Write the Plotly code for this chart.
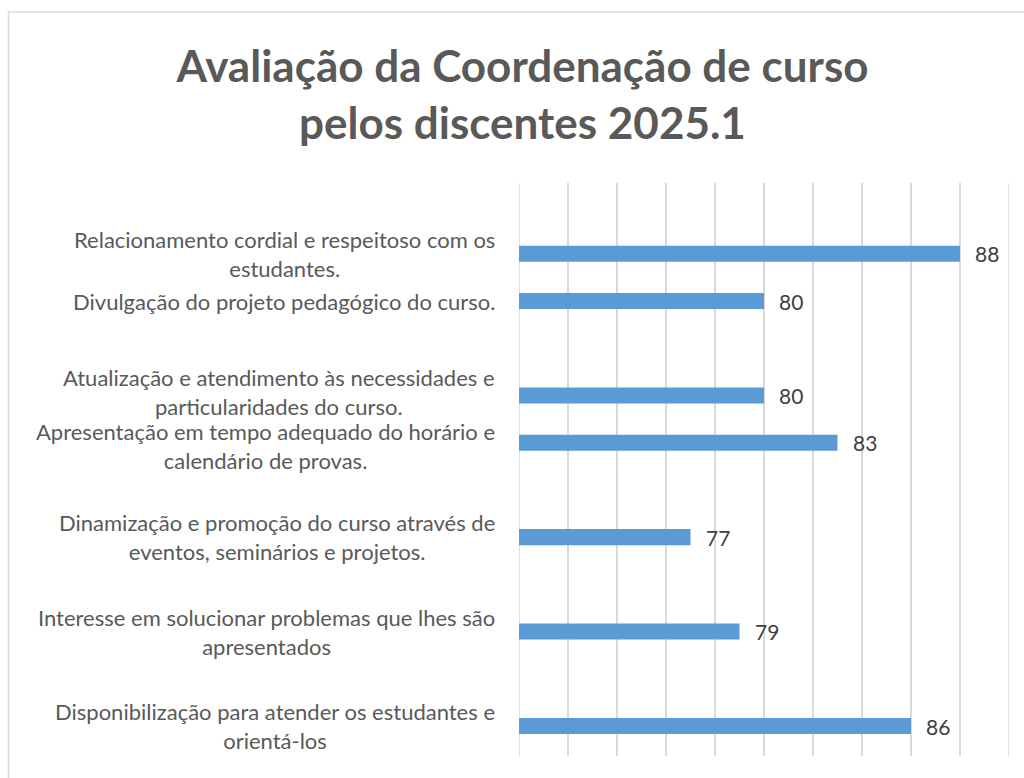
import plotly.graph_objects as go

# Data (top to bottom); blank slots are empty category rows in the original chart
categories = [
    " ",
    "Relacionamento cordial e respeitoso com os<br>estudantes.",
    "Divulgação do projeto pedagógico do curso.",
    "  ",
    "Atualização e atendimento às necessidades e<br>particularidades do curso.",
    "Apresentação em tempo adequado do horário e<br>calendário de provas.",
    "   ",
    "Dinamização e promoção do curso através de<br>eventos, seminários e projetos.",
    "    ",
    "Interesse em solucionar problemas que lhes são<br>apresentados",
    "     ",
    "Disponibilização para atender os estudantes e<br>orientá-los",
]
values = [None, 88, 80, None, 80, 83, None, 77, None, 79, None, 86]
label_nudge = [0, 0, 0, 0, 3, -3, 0, 0, 0, 0, 0, 0]

title_text = "Avaliação da Coordenação de curso<br>pelos discentes 2025.1"

FONT = "Lato"
TXT = "#595959"

fig = go.Figure()
fig.add_trace(go.Bar(
    y=categories, x=values, orientation="h",
    width=0.34,
    marker=dict(color="#5b9bd5", line=dict(width=0)),
    hoverinfo="x+y",
))

annotations = []
for cat, v, nd in zip(categories, values, label_nudge):
    if v is None:
        continue
    annotations.append(dict(
        x=0, xref="paper", y=cat, yref="y",
        text=cat, showarrow=False, xanchor="right", yanchor="middle",
        align="center", xshift=-22, yshift=nd,
        font=dict(family=FONT, size=22, color=TXT),
    ))
    annotations.append(dict(
        x=v, xref="x", y=cat, yref="y",
        text=str(v), showarrow=False, xanchor="left", yanchor="middle",
        xshift=13,
        font=dict(family=FONT, size=21, color="#404040"),
    ))

W, H = 1024, 778
L, T = 519, 183
PW, PH = 490, 573

fig.update_layout(
    width=W, height=H,
    margin=dict(l=L, r=W - L - PW, t=T, b=H - T - PH, autoexpand=False),
    paper_bgcolor="white", plot_bgcolor="white",
    showlegend=False,
    title=dict(text=title_text, x=522.5 / W, xanchor="center", y=0.895, yanchor="middle",
               font=dict(family=FONT, size=44, color=TXT, weight="bold")),
    xaxis=dict(range=[70, 90], dtick=2, tick0=70, showgrid=True, gridcolor="#d9d9d9",
               gridwidth=1.5, showticklabels=False, zeroline=False, showline=False,
               ticks=""),
    yaxis=dict(type="category", categoryorder="array", categoryarray=categories,
               autorange="reversed", showticklabels=False, showgrid=False,
               zeroline=False, showline=False, ticks=""),
    annotations=annotations,
    shapes=[
        dict(type="line", xref="x", yref="paper", x0=70, x1=70, y0=0, y1=1,
             line=dict(color="#d9d9d9", width=1.5), layer="below"),
        dict(type="line", xref="x", yref="paper", x0=90, x1=90, y0=0, y1=1,
             line=dict(color="#d9d9d9", width=1.5), layer="below"),
        dict(type="rect", xref="paper", yref="paper",
             x0=(8.5 - L) / PW, x1=1.2, y0=-0.2, y1=1 + (T - 12) / PH,
             line=dict(color="#d9d9d9", width=1.5), fillcolor="rgba(0,0,0,0)"),
    ],
)

fig.write_html(
    "out.html",
    config={"displayModeBar": False},
    post_script="document.body.style.margin='0';document.body.style.overflow='hidden';",
)
